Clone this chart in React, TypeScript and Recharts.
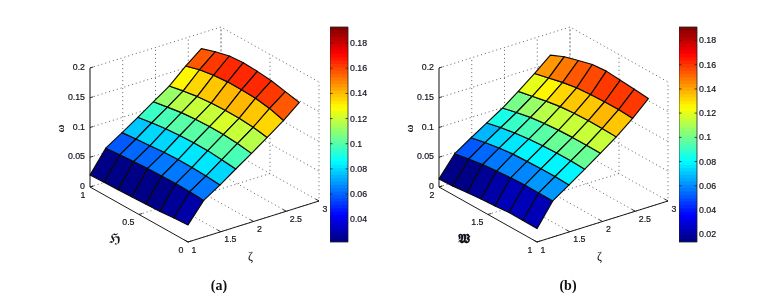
import React from "react";
import { ScatterChart, Scatter, XAxis, YAxis, ComposedChart, ReferenceArea } from "recharts";

// ---- data ----
const zetaNodes = [1, 1.24, 1.49, 1.73, 1.97, 2.21, 2.46, 2.7];
const zetaTicks = [1, 1.5, 2, 2.5, 3];
const zTicks = [0, 0.05, 0.1, 0.15, 0.2];
const zLabels = ["0", "0.05", "0.1", "0.15", "0.2"];
// rows: zeta node; columns: upper bound of second variable down to lower bound
const surfaceA = [
  [0.02, 0.021, 0.022, 0.023, 0.024, 0.025, 0.027, 0.0286],
  [0.057, 0.059, 0.061, 0.0625, 0.063, 0.0635, 0.063, 0.0617],
  [0.0745, 0.077, 0.079, 0.081, 0.082, 0.082, 0.081, 0.079],
  [0.092, 0.096, 0.099, 0.101, 0.102, 0.102, 0.1, 0.0975],
  [0.11, 0.114, 0.118, 0.12, 0.121, 0.121, 0.119, 0.1155],
  [0.128, 0.133, 0.137, 0.139, 0.14, 0.14, 0.138, 0.134],
  [0.153, 0.16, 0.164, 0.166, 0.166, 0.165, 0.161, 0.154],
  [0.174, 0.182, 0.188, 0.19, 0.1886, 0.186, 0.181, 0.176],
];
const surfaceB = [
  [0.0136, 0.0145, 0.017, 0.0195, 0.021, 0.023, 0.023, 0.0225],
  [0.0477, 0.052, 0.056, 0.058, 0.06, 0.061, 0.061, 0.0607],
  [0.0659, 0.071, 0.075, 0.078, 0.079, 0.08, 0.08, 0.079],
  [0.0825, 0.088, 0.092, 0.095, 0.097, 0.098, 0.098, 0.0973],
  [0.0993, 0.105, 0.11, 0.113, 0.115, 0.116, 0.116, 0.1158],
  [0.119, 0.124, 0.129, 0.133, 0.135, 0.136, 0.136, 0.135],
  [0.1405, 0.146, 0.152, 0.156, 0.158, 0.159, 0.159, 0.1575],
  [0.163, 0.1736, 0.1805, 0.187, 0.189, 0.187, 0.185, 0.1825],
];
const hTicksA = [1, 0.5, 0];
const hLabelsA = ["1", "0.5", "0"];
const hLabelsB = ["2", "1.5", "1"];
const barTicksA = [0.04, 0.06, 0.08, 0.1, 0.12, 0.14, 0.16, 0.18];
const barTicksB = [0.02, 0.04, 0.06, 0.08, 0.1, 0.12, 0.14, 0.16, 0.18];
const barDomainA: [number, number] = [0.0219, 0.1928];
const barDomainB: [number, number] = [0.0136, 0.1911];

const FONT = "'Liberation Sans', Arial, sans-serif";
const INK = "#14141e";
const W = 765;
const H = 299;

function jet(t: number) {
  const q = Math.min(63, Math.max(0, Math.floor(t * 64)));
  const v = (q + 0.5) / 64;
  const c = (x: number) => Math.round(255 * Math.max(0, Math.min(1, 1.5 - Math.abs(4 * v - x))));
  return `rgb(${c(3)},${c(2)},${c(1)})`;
}

type P = { x: number; y: number };
const none = () => null;

function polyLine(stroke: string, width: number, dash?: string) {
  return (p: any) => (
    <polyline
      points={p.points.map((q: P) => `${q.x},${q.y}`).join(" ")}
      fill="none"
      stroke={stroke}
      strokeWidth={width}
      strokeDasharray={dash}
    />
  );
}

function quad(fill: string) {
  return (p: any) => (
    <polygon
      points={p.points.map((q: P) => `${q.x},${q.y}`).join(" ")}
      fill={fill}
      stroke="#0a0a0a"
      strokeWidth={1.15}
      strokeLinejoin="round"
    />
  );
}

function label(anchor: string, dx: number, dy: number) {
  return (p: any) => (
    <text
      x={p.cx + dx}
      y={p.cy + dy}
      textAnchor={anchor}
      dominantBaseline="central"
      fontFamily={FONT}
      fontSize={8.8}
      fontWeight={500}
      fill={INK}
      stroke={INK}
      strokeWidth={0.2}
    >
      {p.payload.label}
    </text>
  );
}

function Panel({
  ox,
  surface,
  hLabels,
  hName,
  hNameFont,
  domain,
  caption,
}: {
  ox: number;
  surface: number[][];
  hLabels: string[];
  hName: string;
  hNameFont: string;
  domain: [number, number];
  caption: string;
}) {
  const project = (zeta: number, u: number, z: number) => ({
    x: ox + 65.5 * (zeta - 1) - 98 * u,
    y: 242 - 20.5 * (zeta - 1) - 55 * u - 595 * z,
  });
  const grids: P[][] = [];
  zTicks.slice(1).forEach((z) => grids.push([project(1, 1, z), project(3, 1, z), project(3, 0, z)]));
  zetaTicks.slice(1).forEach((k) => grids.push([project(k, 0, 0), project(k, 1, 0), project(k, 1, 0.2)]));
  hTicksA.forEach((u) => grids.push([project(1, u, 0), project(3, u, 0), project(3, u, 0.2)]));

  const quads: { pts: P[]; fill: string }[] = [];
  for (let r = 0; r < 7; r++) {
    for (let c = 0; c < 7; c++) {
      const u0 = 1 - c / 7;
      const u1 = 1 - (c + 1) / 7;
      const v = (surface[r][c] + surface[r][c + 1]) / 2;
      quads.push({
        pts: [
          project(zetaNodes[r], u0, surface[r][c]),
          project(zetaNodes[r], u1, surface[r][c + 1]),
          project(zetaNodes[r + 1], u1, surface[r + 1][c + 1]),
          project(zetaNodes[r + 1], u0, surface[r + 1][c]),
          project(zetaNodes[r], u0, surface[r][c]),
        ],
        fill: jet((v - domain[0]) / (domain[1] - domain[0])),
      });
    }
  }
  const hAxis = [project(1, 1, 0), project(1, 0, 0), project(3, 0, 0)];
  const zAxis = [project(1, 1, 0), project(1, 1, 0.2)];
  const tickSegs: P[][] = [
    ...zetaTicks.map((k) => [project(k, 0, 0), project(k, 0.035, 0)]),
    ...hTicksA.map((u) => [project(1, u, 0), project(1.05, u, 0)]),
  ];
  const zTickSegs = zTicks.map((z) => [project(1, 1, z), project(1.05, 1, z)]);
  const zLab = zTicks.map((z, i) => ({ ...project(1, 1, z), label: zLabels[i] }));
  const hLab = hTicksA.map((u, i) => ({ ...project(1, u, 0), label: hLabels[i] }));
  const kLab = zetaTicks.map((k) => ({ ...project(k, 0, 0), label: String(k) }));
  const zName = [{ ...project(1, 1, 0.1), label: "ω" }];
  const hTitle = [{ ...project(1, 0.5, 0), label: hName }];
  const kTitle = [{ ...project(2, 0, 0), label: "ζ" }];
  const cap = [{ ...project(1, 0, 0), label: caption }];

  return (
    <ScatterChart
      width={W}
      height={H}
      margin={{ top: 0, right: 0, bottom: 0, left: 0 }}
      style={{ position: "absolute", left: 0, top: 0 }}
    >
      <XAxis type="number" dataKey="x" domain={[0, W]} hide allowDataOverflow />
      <YAxis type="number" dataKey="y" domain={[0, H]} reversed hide allowDataOverflow />
      {grids.map((g, i) => (
        <Scatter key={`g${i}`} data={g} shape={none} line={polyLine("#4d4d4d", 0.9, "1 3")} isAnimationActive={false} />
      ))}
      <Scatter data={zAxis} shape={none} line={polyLine("#6a6a6a", 1.6)} isAnimationActive={false} />
      <Scatter data={hAxis} shape={none} line={polyLine("#1a1a1a", 1)} isAnimationActive={false} />
      {[...tickSegs, ...zTickSegs].map((g, i) => (
        <Scatter key={`t${i}`} data={g} shape={none} line={polyLine("#1a1a1a", 0.9)} isAnimationActive={false} />
      ))}
      {quads.map((q, i) => (
        <Scatter key={`q${i}`} data={q.pts} shape={none} line={quad(q.fill)} isAnimationActive={false} />
      ))}
      <Scatter data={zLab} shape={label("end", -5, -1)} isAnimationActive={false} />
      <Scatter data={hLab} shape={label("end", -4.5, 7.5)} isAnimationActive={false} />
      <Scatter data={kLab} shape={label("start", 3.5, 7.5)} isAnimationActive={false} />
      <Scatter
        data={zName}
        shape={(p: any) => (
          <text
            transform={`translate(${p.cx - 30} ${p.cy + 1}) rotate(-90)`}
            textAnchor="middle"
            dominantBaseline="central"
            fontFamily="'Liberation Serif', serif"
            fontSize={11}
            fontWeight={700}
            fill={INK}
          >
            {p.payload.label}
          </text>
        )}
        isAnimationActive={false}
      />
      <Scatter
        data={hTitle}
        shape={(p: any) => (
          <text
            x={p.cx - 24}
            y={p.cy + 24}
            textAnchor="middle"
            dominantBaseline="central"
            fontFamily={hNameFont}
            fontSize={13}
            fontWeight={700}
            fill={INK}
          >
            {p.payload.label}
          </text>
        )}
        isAnimationActive={false}
      />
      <Scatter
        data={kTitle}
        shape={(p: any) => (
          <text
            x={p.cx - 3}
            y={p.cy + 34}
            textAnchor="middle"
            dominantBaseline="central"
            fontFamily="'Liberation Serif', serif"
            fontSize={12}
            fill={INK}
          >
            {p.payload.label}
          </text>
        )}
        isAnimationActive={false}
      />
      <Scatter
        data={cap}
        shape={(p: any) => (
          <text
            x={p.cx + 31}
            y={p.cy + 43}
            textAnchor="middle"
            dominantBaseline="central"
            fontFamily="'Liberation Serif', serif"
            fontSize={14}
            fontWeight={700}
            fill="#111"
          >
            {p.payload.label}
          </text>
        )}
        isAnimationActive={false}
      />
    </ScatterChart>
  );
}

function ColorBar({ left, domain, ticks }: { left: number; domain: [number, number]; ticks: number[] }) {
  const [lo, hi] = domain;
  const bands = Array.from({ length: 64 }, (_, i) => i);
  const barW = 18;
  const tick = (p: any) => (
    <g>
      <line x1={p.x - barW} x2={p.x - barW + 2.5} y1={p.y} y2={p.y} stroke="#222" strokeWidth={0.8} />
      <line x1={p.x - 2.5} x2={p.x} y1={p.y} y2={p.y} stroke="#222" strokeWidth={0.8} />
      <text
        x={p.x + 2}
        y={p.y}
        textAnchor="start"
        dominantBaseline="central"
        fontFamily={FONT}
        fontSize={8.8}
        fontWeight={500}
        fill={INK}
        stroke={INK}
        strokeWidth={0.2}
      >
        {p.payload.value}
      </text>
    </g>
  );
  return (
    <ComposedChart
      width={barW + 40}
      height={H}
      data={[{ x: 0 }, { x: 1 }]}
      margin={{ top: 27, right: 0, bottom: 57, left: 0 }}
      style={{ position: "absolute", left, top: 0 }}
    >
      <XAxis dataKey="x" type="number" domain={[0, 1]} hide />
      <YAxis
        orientation="right"
        type="number"
        domain={domain}
        ticks={ticks}
        width={40}
        axisLine={false}
        tickLine={false}
        tickSize={0}
        tickMargin={0}
        tick={tick}
        interval={0}
        allowDataOverflow
      />
      {bands.map((i) => (
        <ReferenceArea
          key={i}
          x1={0}
          x2={1}
          y1={lo + ((hi - lo) * i) / 64}
          y2={lo + ((hi - lo) * (i + 1.25)) / 64}
          fill={jet((i + 0.5) / 64)}
          fillOpacity={1}
          stroke="none"
          ifOverflow="hidden"
        />
      ))}
      <ReferenceArea x1={0} x2={1} y1={lo} y2={hi} fill="none" stroke="#222" strokeWidth={0.8} />
    </ComposedChart>
  );
}

export default function App() {
  return (
    <div
      style={{
        position: "absolute",
        left: 0,
        top: 0,
        width: W,
        height: H,
        background: "#fff",
        overflow: "hidden",
        filter: "blur(0.3px)",
      }}
    >
      <Panel
        ox={188}
        surface={surfaceA}
        hLabels={hLabelsA}
        hName="ℌ"
        hNameFont="'DejaVu Sans', serif"
        domain={barDomainA}
        caption="(a)"
      />
      <Panel
        ox={537}
        surface={surfaceB}
        hLabels={hLabelsB}
        hName="𝖂"
        hNameFont="'DejaVu Sans', 'DejaVu Serif', serif"
        domain={barDomainB}
        caption="(b)"
      />
      <ColorBar left={330} domain={barDomainA} ticks={barTicksA} />
      <ColorBar left={679} domain={barDomainB} ticks={barTicksB} />
    </div>
  );
}
